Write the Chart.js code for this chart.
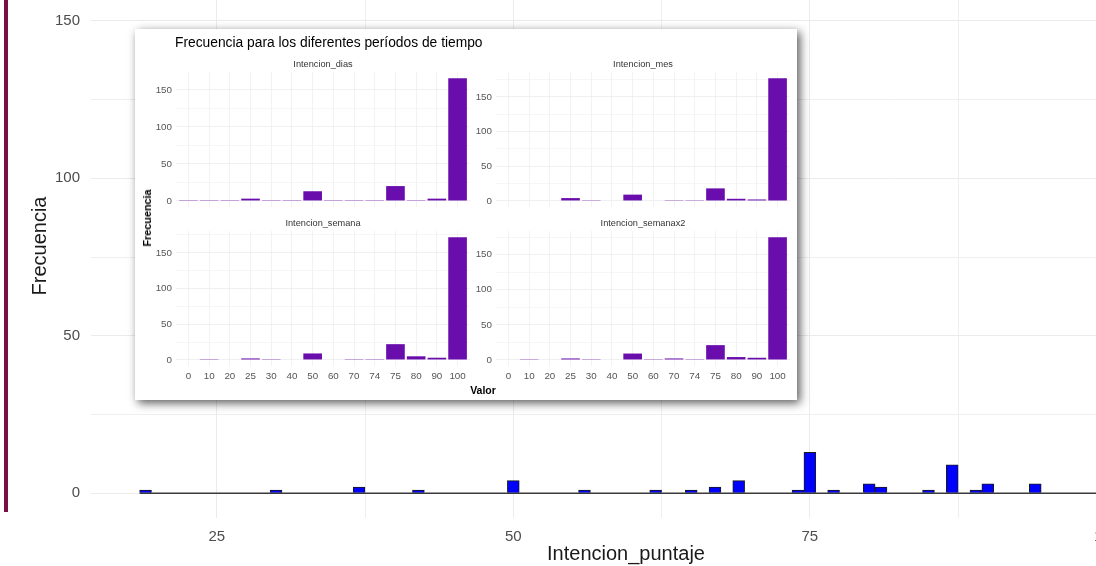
<!DOCTYPE html>
<html lang="es">

<head>
    <meta charset="UTF-8" />
    <title>Intencion_puntaje</title>
    <script src="https://cdn.jsdelivr.net/npm/chart.js"></script>
    <style>
        body {
            margin: 0;
            width: 1096px;
            height: 566px;
            overflow: hidden;
            position: relative;
            background: #fff;
            font-family: "Liberation Sans", Arial, sans-serif;
        }

        .barra {
            position: absolute;
            left: 4px;
            top: 0;
            width: 4px;
            height: 512px;
            background: #7a1045;
        }

        #fondo {
            position: absolute;
            left: 0;
            top: -26px;
        }

        .inserto {
            position: absolute;
            left: 135px;
            top: 29px;
            width: 662px;
            height: 371px;
            background: #fff;
            box-shadow: 3px 3px 9px rgba(0, 0, 0, 0.65);
        }

        .inserto canvas {
            position: absolute;
        }

        .titulo {
            position: absolute;
            left: 40px;
            top: 5px;
            font-size: 13.8px;
            line-height: 17px;
            color: #000;
            white-space: nowrap;
        }

        .tira {
            position: absolute;
            width: 294px;
            text-align: center;
            font-size: 9.2px;
            line-height: 10px;
            color: #333;
        }

        .eje-y {
            position: absolute;
            left: 12px;
            top: 189px;
            font-size: 10.8px;
            font-weight: bold;
            white-space: nowrap;
            transform: translate(-50%, -50%) rotate(-90deg);
        }

        .eje-x {
            position: absolute;
            left: 348px;
            top: 361px;
            font-size: 10.5px;
            font-weight: bold;
            transform: translate(-50%, -50%);
        }
    </style>
</head>

<body>
    <div class="barra"></div>
    <canvas id="fondo" width="1180" height="594"></canvas>

    <div class="inserto">
        <div class="titulo">Frecuencia para los diferentes períodos de tiempo</div>
        <div class="tira" style="left:41px; top:30px;">Intencion_dias</div>
        <div class="tira" style="left:361px; top:30px;">Intencion_mes</div>
        <div class="tira" style="left:41px; top:189px;">Intencion_semana</div>
        <div class="tira" style="left:361px; top:189px;">Intencion_semanax2</div>
        <canvas id="dias" width="329" height="135" style="left:8px; top:43px;"></canvas>
        <canvas id="mes" width="329" height="135" style="left:328px; top:43px;"></canvas>
        <canvas id="semana" width="329" height="155" style="left:8px; top:202px;"></canvas>
        <canvas id="semanax2" width="329" height="155" style="left:328px; top:202px;"></canvas>
        <div class="eje-y">Frecuencia</div>
        <div class="eje-x">Valor</div>
    </div>

    <script>
        const FONT = '"Liberation Sans", Arial, sans-serif';

        // Histograma de fondo (binwidth 1)
        const binCenters = [19, 30, 37, 42, 50, 56, 62, 65, 67, 69, 74, 75, 77, 80, 81, 85, 87, 89, 90, 94, 100];
        const binCounts = [1, 1, 2, 1, 4, 1, 1, 1, 2, 4, 1, 13, 1, 3, 2, 1, 9, 1, 3, 3, 157];
        const mainXTicks = [25, 37.5, 50, 62.5, 75, 87.5, 100];
        const mainYTicks = [0, 25, 50, 75, 100, 125, 150];

        // Gráfico insertado (facetas)
        const valorCats = ["0", "10", "20", "25", "30", "40", "50", "60", "70", "74", "75", "80", "90", "100"];
        const diasCounts = [1, 1, 1, 3, 1, 1, 13, 1, 1, 1, 20, 1, 3, 166];
        const mesCounts = [null, null, null, 4, 1, null, 9, null, 1, 1, 18, 3, 2, 177];
        const semanaCounts = [null, 1, null, 2, 1, null, 9, null, 1, 1, 22, 5, 3, 172];
        const semanax2Counts = [null, 1, null, 2, 1, null, 9, 1, 2, 1, 21, 4, 3, 175];
        const insetYTicks = [0, 25, 50, 75, 100, 125, 150, 175];

        Chart.defaults.font.family = FONT;

        // rango del histograma con la expansión de ggplot (5%)
        const lo = Math.min(...binCenters) - 0.5;
        const hi = Math.max(...binCenters) + 0.5;
        const padX = (hi - lo) * 0.05;
        const maxCount = Math.max(...binCounts);

        new Chart(document.getElementById("fondo"), {
            type: "bar",
            data: {
                datasets: [{
                    type: "line",
                    data: [{ x: lo, y: 0 }, { x: hi, y: 0 }],
                    borderColor: "#3a3a3a",
                    borderWidth: 1.6,
                    pointRadius: 0,
                    order: 0
                }, {
                    type: "bar",
                    data: binCenters.map((x, i) => ({ x: x, y: binCounts[i] })),
                    backgroundColor: "#0000ff",
                    borderColor: "#1a1a1a",
                    borderWidth: 1,
                    barPercentage: 1,
                    categoryPercentage: 1,
                    order: 1
                }]
            },
            options: {
                responsive: false,
                animation: false,
                layout: { padding: { left: 0, right: 19, top: 0, bottom: 0 } },
                plugins: { legend: { display: false }, tooltip: { enabled: false } },
                scales: {
                    x: {
                        type: "linear",
                        min: lo - padX,
                        max: hi + padX,
                        offset: false,
                        border: { display: false },
                        grid: {
                            offset: false,
                            drawTicks: false,
                            color: "#ebebeb",
                            lineWidth: c => c.tick && c.tick.value % 25 === 0 ? 1 : 0.8
                        },
                        afterBuildTicks: s => { s.ticks = mainXTicks.map(v => ({ value: v })); },
                        ticks: {
                            autoSkip: false,
                            maxRotation: 0,
                            padding: 10,
                            color: "#4d4d4d",
                            font: { size: 15 },
                            callback: v => v % 25 === 0 ? String(v) : ""
                        },
                        title: {
                            display: true,
                            text: "Intencion_puntaje",
                            color: "#1a1a1a",
                            font: { size: 20 },
                            padding: { top: 0, bottom: 1.5 }
                        },
                        afterFit: s => { s.height = 50; s.paddingLeft = 0; s.paddingRight = 0; }
                    },
                    y: {
                        min: -maxCount * 0.05,
                        max: maxCount * 1.05,
                        border: { display: false },
                        grid: {
                            drawTicks: false,
                            color: "#ebebeb",
                            lineWidth: c => c.tick && c.tick.value % 50 === 0 ? 1 : 0.8
                        },
                        afterBuildTicks: s => { s.ticks = mainYTicks.map(v => ({ value: v })); },
                        ticks: {
                            padding: 11,
                            color: "#4d4d4d",
                            font: { size: 15 },
                            callback: v => v % 50 === 0 ? String(v) : ""
                        },
                        title: {
                            display: true,
                            text: "Frecuencia",
                            color: "#1a1a1a",
                            font: { size: 20 },
                            padding: { top: 28, bottom: 0 }
                        },
                        afterFit: s => { s.width = 91; s.paddingTop = 0; s.paddingBottom = 0; }
                    }
                }
            }
        });

        // Un panel de la figura insertada
        function panel(id, counts, showX) {
            const maxV = Math.max(...counts.filter(v => v != null));
            const yTop = maxV * 1.05;
            new Chart(document.getElementById(id), {
                type: "bar",
                data: {
                    datasets: [{
                        data: counts.map((v, i) => ({ x: i, y: v })).filter(d => d.y != null),
                        backgroundColor: "#6a0dad",
                        borderWidth: 0,
                        barPercentage: 0.9,
                        categoryPercentage: 1
                    }]
                },
                options: {
                    responsive: false,
                    animation: false,
                    layout: { padding: { left: 0, right: 2, top: 0, bottom: 0 } },
                    plugins: { legend: { display: false }, tooltip: { enabled: false } },
                    scales: {
                        x: {
                            type: "linear",
                            min: -0.6,
                            max: valorCats.length - 0.4,
                            offset: false,
                            border: { display: false },
                            grid: { offset: false, drawTicks: false, color: "#efefef", lineWidth: 0.8 },
                            afterBuildTicks: s => { s.ticks = valorCats.map((c, i) => ({ value: i })); },
                            ticks: {
                                display: showX,
                                autoSkip: false,
                                maxRotation: 0,
                                padding: 4,
                                color: "#555",
                                font: { size: 9.8 },
                                callback: v => valorCats[v]
                            },
                            afterFit: s => { s.height = showX ? 20 : 0; s.paddingLeft = 0; s.paddingRight = 0; }
                        },
                        y: {
                            min: -maxV * 0.05,
                            max: yTop,
                            border: { display: false },
                            grid: {
                                drawTicks: false,
                                color: c => c.tick && c.tick.value % 50 === 0 ? "#ececec" : "#f4f4f4",
                                lineWidth: 0.8
                            },
                            afterBuildTicks: s => { s.ticks = insetYTicks.filter(v => v <= yTop).map(v => ({ value: v })); },
                            ticks: {
                                padding: 4,
                                color: "#555",
                                font: { size: 9.8 },
                                callback: v => v % 50 === 0 ? String(v) : ""
                            },
                            afterFit: s => { s.width = 33; s.paddingTop = 0; s.paddingBottom = 0; }
                        }
                    }
                }
            });
        }

        panel("dias", diasCounts, false);
        panel("mes", mesCounts, false);
        panel("semana", semanaCounts, true);
        panel("semanax2", semanax2Counts, true);
    </script>
</body>

</html>
